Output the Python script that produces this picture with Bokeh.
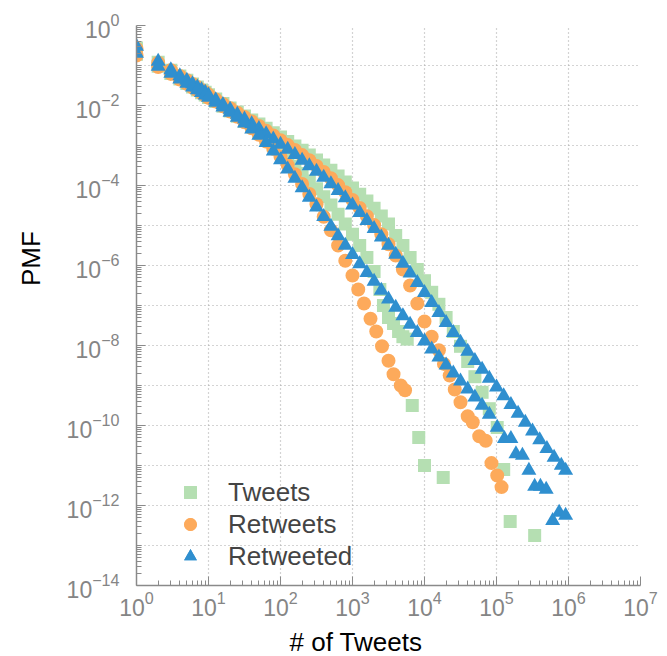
import numpy as np
from bokeh.plotting import figure
from bokeh.models import FixedTicker, Legend, LegendItem, ColumnDataSource
from bokeh.embed import file_html
from bokeh.resources import INLINE

# bin positions, log10(# of tweets)
bins_logx = [0, 0.301, 0.477, 0.602, 0.699, 0.778, 0.845, 0.903, 0.954, 1.0,
             1.1, 1.2, 1.3, 1.4, 1.5, 1.6, 1.7, 1.8, 1.9, 2.0,
             2.1, 2.2, 2.3, 2.4, 2.5, 2.6, 2.7, 2.8, 2.9, 3.0,
             3.1, 3.2, 3.3, 3.4, 3.5, 3.6, 3.7, 3.8, 3.9, 4.0,
             4.1, 4.2, 4.3, 4.4, 4.5, 4.6, 4.7, 4.8, 4.9, 5.0,
             5.1, 5.2, 5.3, 5.4, 5.5, 5.6, 5.7, 5.8, 5.9]

# log10(PMF) per bin (first collection: longer tails)
tweets_a_logy = [-0.56, -0.92, -1.12, -1.26, -1.37, -1.46, -1.54, -1.61, -1.67, -1.73,
                 -1.84, -1.95, -2.06, -2.16, -2.26, -2.36, -2.46, -2.57, -2.68, -2.79,
                 -2.9, -3.01, -3.12, -3.24, -3.36, -3.49, -3.62, -3.76, -3.91, -4.06,
                 -4.22, -4.39, -4.57, -4.76, -4.96, -5.25, -5.5, -5.8, -6.1, -6.38,
                 -6.67, -6.97, -7.3, -7.65, -8.02, -8.4, -8.78, -9.17, -9.58]
tweets_a_tail_logx = [5.01, 5.1, 5.19, 5.53]
tweets_a_tail_logy = [-10.05, -11.1, -12.4, -12.75]

retweets_a_logy = [-0.58, -0.93, -1.12, -1.26, -1.37, -1.46, -1.54, -1.61, -1.67, -1.73,
                   -1.85, -1.96, -2.07, -2.18, -2.29, -2.4, -2.51, -2.63, -2.75, -2.87,
                   -2.99, -3.11, -3.24, -3.37, -3.51, -3.66, -3.82, -3.99, -4.17, -4.36,
                   -4.56, -4.77, -4.99, -5.22, -5.47, -5.75, -6.1, -6.5, -6.95, -7.4,
                   -7.78, -8.12]
retweets_a_tail_logx = [4.27, 4.35, 4.42, 4.5, 4.6, 4.67, 4.76, 4.85, 4.93, 5.01, 5.07]
retweets_a_tail_logy = [-8.46, -8.75, -9.1, -9.42, -9.77, -9.92, -10.27, -10.38, -10.94, -11.25, -11.54]

retweeted_a_logy = [-0.52, -0.9, -1.11, -1.26, -1.37, -1.46, -1.54, -1.61, -1.67, -1.74,
                    -1.86, -1.98, -2.1, -2.22, -2.34, -2.46, -2.58, -2.71, -2.84, -2.97,
                    -3.1, -3.23, -3.37, -3.51, -3.65, -3.8, -3.96, -4.13, -4.31, -4.49,
                    -4.68, -4.88, -5.08, -5.29, -5.5, -5.72, -5.95, -6.19, -6.43, -6.68,
                    -6.93, -7.18, -7.43, -7.68, -7.92, -8.15, -8.38, -8.6, -8.82, -9.04,
                    -9.26, -9.48, -9.7, -9.92, -10.14, -10.36, -10.58, -10.8, -11.0]
retweeted_a_tail_logx = [5.96]
retweeted_a_tail_logy = [-11.12]

# second collection: steeper tails
tweets_b_logy = [-0.72, -1.02, -1.2, -1.34, -1.45, -1.54, -1.61, -1.68, -1.74, -1.8,
                 -1.9, -2.02, -2.14, -2.27, -2.4, -2.53, -2.68, -2.84, -3.0, -3.17,
                 -3.34, -3.52, -3.7, -3.89, -4.08, -4.28, -4.49, -4.72, -4.96, -5.22,
                 -5.5, -5.8, -6.15]
tweets_b_tail_logx = [3.38, 3.43, 3.5, 3.57, 3.64, 3.7, 3.76, 3.83, 3.92, 4.0, 4.26]
tweets_b_tail_logy = [-6.6, -7.0, -7.3, -7.45, -7.65, -7.78, -7.84, -9.5, -10.3, -11.0, -11.3]

retweets_b_logy = [-0.75, -1.04, -1.21, -1.35, -1.46, -1.55, -1.62, -1.69, -1.75, -1.81,
                   -1.9, -2.02, -2.15, -2.28, -2.42, -2.57, -2.73, -2.9, -3.08, -3.28,
                   -3.49, -3.72, -3.96, -4.21, -4.47]
retweets_b_tail_logx = [2.6, 2.7, 2.8, 2.9, 3.0, 3.08, 3.16, 3.25, 3.33, 3.41, 3.5, 3.57, 3.67, 3.73]
retweets_b_tail_logy = [-4.78, -5.12, -5.5, -5.88, -6.25, -6.6, -6.95, -7.33, -7.65, -8.02, -8.38, -8.72, -9.0, -9.12]

retweeted_b_logy = [-0.7, -1.02, -1.2, -1.34, -1.45, -1.54, -1.61, -1.68, -1.74, -1.8,
                    -1.92, -2.04, -2.17, -2.3, -2.44, -2.59, -2.75, -2.93, -3.14, -3.36,
                    -3.59, -3.82, -4.06, -4.3, -4.54, -4.78, -5.02, -5.26, -5.5, -5.73,
                    -5.96, -6.18, -6.4, -6.62, -6.84, -7.05, -7.26, -7.47, -7.68, -7.89,
                    -8.09, -8.29, -8.49, -8.69, -8.89, -9.09, -9.29, -9.5, -9.72]
retweeted_b_tail_logx = [5.01, 5.11, 5.2, 5.27, 5.36, 5.45, 5.53, 5.61, 5.69, 5.78, 5.87, 5.96]
retweeted_b_tail_logy = [-10.05, -10.33, -10.33, -10.71, -10.75, -11.12, -11.52, -11.52, -11.6, -12.38, -12.17, -12.25]

x_tick_exponents = [0, 1, 2, 3, 4, 5, 6, 7]
y_tick_exponents = [0, -2, -4, -6, -8, -10, -12, -14]

GREEN = "#b5dfb2"
ORANGE = "#fdaa5b"
BLUE = "#2f8fcf"
FONT = "Liberation Sans"


def series(logy, tail_x, tail_y):
    lx = list(bins_logx[:len(logy)]) + list(tail_x)
    ly = list(logy) + list(tail_y)
    return ColumnDataSource(dict(x=10.0 ** np.array(lx), y=10.0 ** np.array(ly)))


p = figure(x_axis_type="log", y_axis_type="log",
           x_range=(1, 1e7), y_range=(1e-14, 1),
           frame_width=504, frame_height=560,
           min_border_left=136, min_border_top=25, min_border_right=19, min_border_bottom=68,
           output_backend="svg", toolbar_location=None)
p.outline_line_color = None
p.background_fill_color = "white"

g_a = p.scatter("x", "y", source=series(tweets_a_logy, tweets_a_tail_logx, tweets_a_tail_logy),
                marker="square", size=13, fill_color=GREEN, line_color=None)
g_b = p.scatter("x", "y", source=series(tweets_b_logy, tweets_b_tail_logx, tweets_b_tail_logy),
                marker="square", size=13, fill_color=GREEN, line_color=None)
o_a = p.scatter("x", "y", source=series(retweets_a_logy, retweets_a_tail_logx, retweets_a_tail_logy),
                marker="circle", size=14, fill_color=ORANGE, line_color=None)
o_b = p.scatter("x", "y", source=series(retweets_b_logy, retweets_b_tail_logx, retweets_b_tail_logy),
                marker="circle", size=14, fill_color=ORANGE, line_color=None)
b_a = p.scatter("x", "y", source=series(retweeted_a_logy, retweeted_a_tail_logx, retweeted_a_tail_logy),
                marker="triangle", size=15, fill_color=BLUE, line_color=None)
b_b = p.scatter("x", "y", source=series(retweeted_b_logy, retweeted_b_tail_logx, retweeted_b_tail_logy),
                marker="triangle", size=15, fill_color=BLUE, line_color=None)

# axes
p.xaxis.ticker = FixedTicker(ticks=[10.0 ** e for e in x_tick_exponents],
                             minor_ticks=[m * 10.0 ** e for e in range(0, 7) for m in range(2, 10)])
p.yaxis.ticker = FixedTicker(ticks=[10.0 ** e for e in y_tick_exponents],
                             minor_ticks=[m * 10.0 ** e for e in range(-14, 0) for m in range(1, 10)
                                          if not (m == 1 and e % 2 == 0)])
p.xgrid.ticker = FixedTicker(ticks=[10.0 ** e for e in range(0, 8)])
p.ygrid.ticker = FixedTicker(ticks=[10.0 ** e for e in range(-14, 1)])

for ax in (p.xaxis, p.yaxis):
    ax.axis_line_color = "#8a8a8a"
    ax.axis_line_width = 1.5
    ax.major_tick_in = 9
    ax.major_tick_out = 0
    ax.minor_tick_in = 5
    ax.minor_tick_out = 0
    ax.major_tick_line_color = "#8a8a8a"
    ax.minor_tick_line_color = "#8a8a8a"
    ax.major_label_text_color = "#858585"
    ax.major_label_text_font = FONT
    ax.major_label_text_font_size = "23px"
    ax.axis_label_text_font = FONT
    ax.axis_label_text_font_size = "26px"
    ax.axis_label_text_font_style = "normal"
    ax.axis_label_text_color = "black"

NB = "\u00a0"
p.xaxis.axis_label = "# of Tweets" + NB * 9
p.yaxis.axis_label = NB * 13 + "PMF"
p.xaxis.major_label_standoff = 5
p.yaxis.major_label_standoff = 17
p.xaxis.axis_label_standoff = 8
p.yaxis.axis_label_standoff = 18

for g in (p.xgrid, p.ygrid):
    g.grid_line_color = "#a8a8a8"
    g.grid_line_dash = "1 3"
    g.grid_line_width = 1.2

legend = Legend(items=[LegendItem(label="Tweets", renderers=[g_a, g_b]),
                       LegendItem(label="Retweets", renderers=[o_a, o_b]),
                       LegendItem(label="Retweeted", renderers=[b_a, b_b])],
                location=(38, 13), background_fill_alpha=0, border_line_color=None,
                label_text_font=FONT, label_text_font_size="26px",
                glyph_width=32, glyph_height=32, label_height=32,
                label_standoff=22, spacing=0, padding=0, margin=0)
p.add_layout(legend)

open("out.html", "w").write(file_html(p, INLINE))
